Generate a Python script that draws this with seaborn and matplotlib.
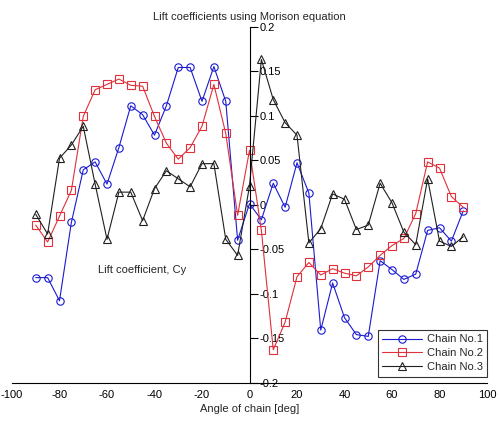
import matplotlib
matplotlib.use("Agg")
import matplotlib.pyplot as plt
import seaborn as sns
import numpy as np

angles = [-90, -85, -80, -75, -70, -65, -60, -55, -50, -45, -40, -35, -30, -25, -20,
          -15, -10, -5, 0, 5, 10, 15, 20, 25, 30, 35, 40, 45, 50, 55, 60, 65, 70, 75,
          80, 85, 90]

chain1 = [-0.082, -0.082, -0.108, -0.020, 0.039, 0.048, 0.023, 0.064, 0.111, 0.101,
          0.078, 0.111, 0.154, 0.154, 0.116, 0.155, 0.116, -0.040, 0.001, -0.017,
          0.024, -0.003, 0.047, 0.013, -0.141, -0.088, -0.127, -0.146, -0.148, -0.063,
          -0.073, -0.084, -0.078, -0.029, -0.026, -0.041, -0.007]

chain2 = [-0.023, -0.042, -0.013, 0.016, 0.099, 0.129, 0.135, 0.141, 0.134, 0.133,
          0.099, 0.069, 0.051, 0.064, 0.088, 0.135, 0.080, -0.012, 0.061, -0.029,
          -0.163, -0.132, -0.081, -0.065, -0.079, -0.072, -0.077, -0.080, -0.070, -0.057,
          -0.046, -0.038, -0.010, 0.048, 0.041, 0.009, -0.003]

chain3 = [-0.011, -0.033, 0.052, 0.067, 0.088, 0.023, -0.039, 0.014, 0.014, -0.018,
          0.018, 0.038, 0.029, 0.020, 0.046, 0.046, -0.039, -0.057, 0.021, 0.163,
          0.118, 0.092, 0.078, -0.043, -0.027, 0.012, 0.006, -0.028, -0.023, 0.024,
          0.002, -0.031, -0.045, 0.029, -0.041, -0.047, -0.036]

series_labels = ["Chain No.1", "Chain No.2", "Chain No.3"]
x_ticks = [-100, -80, -60, -40, -20, 0, 20, 40, 60, 80, 100]
x_ticklabels = ["-100", "-80", "-60", "-40", "-20", "0", "20", "40", "60", "80", "100"]
y_ticks = [-0.2, -0.15, -0.1, -0.05, 0, 0.05, 0.1, 0.15, 0.2]
y_ticklabels = ["-0.2", "-0.15", "-0.1", "-0.05", "0", "0.05", "0.1", "0.15", "0.2"]

sns.set_style("white")
plt.rcParams["font.family"] = ["Liberation Sans", "DejaVu Sans"]
plt.rcParams["axes.unicode_minus"] = False

fig = plt.figure(figsize=(5.0, 4.21), dpi=100)
ax = fig.add_axes([0.024, 0.091, 0.95, 0.846])

colors = ["#1a1ad0", "#e0303a", "#202020"]
markers = ["o", "s", "^"]
for vals, lab, c, m in zip([chain1, chain2, chain3], series_labels, colors, markers):
    sns.lineplot(x=angles, y=vals, ax=ax, color=c, marker=m, markersize=5.3,
                 mfc="none", mec=c, markeredgewidth=0.8, linewidth=0.8,
                 label=lab, legend=False)

ax.set_xlim(-100, 100)
ax.set_ylim(-0.2, 0.2)

ax.spines["top"].set_visible(False)
ax.spines["left"].set_visible(False)
ax.spines["right"].set_position(("data", 0))
for s in ["right", "bottom"]:
    ax.spines[s].set_color("black")
    ax.spines[s].set_linewidth(0.8)
ax.yaxis.tick_right()

ax.set_xticks(x_ticks)
ax.set_xticklabels(x_ticklabels)
ax.set_yticks(y_ticks)
ax.set_yticklabels(y_ticklabels)
ax.tick_params(axis="x", direction="out", length=4, width=0.8, labelsize=8, pad=1.5, colors="black")
ax.tick_params(axis="y", direction="out", length=6, width=0.8, labelsize=8, pad=1, colors="black")

ax.set_title("Lift coefficients using Morison equation", fontsize=8, pad=5)
ax.set_xlabel("Angle of chain [deg]", fontsize=8, labelpad=3)
ax.text(-64, -0.074, "Lift coefficient, Cy", fontsize=8, va="center", ha="left")

leg = ax.legend(loc="lower right", bbox_to_anchor=(1.0, 0.017), borderaxespad=0,
                fontsize=8, frameon=True, fancybox=False, handlelength=3.6,
                labelspacing=0.35, borderpad=0.4, handletextpad=0.4)
leg.get_frame().set_edgecolor("black")
leg.get_frame().set_linewidth(0.8)

fig.savefig("out.png", dpi=100)
